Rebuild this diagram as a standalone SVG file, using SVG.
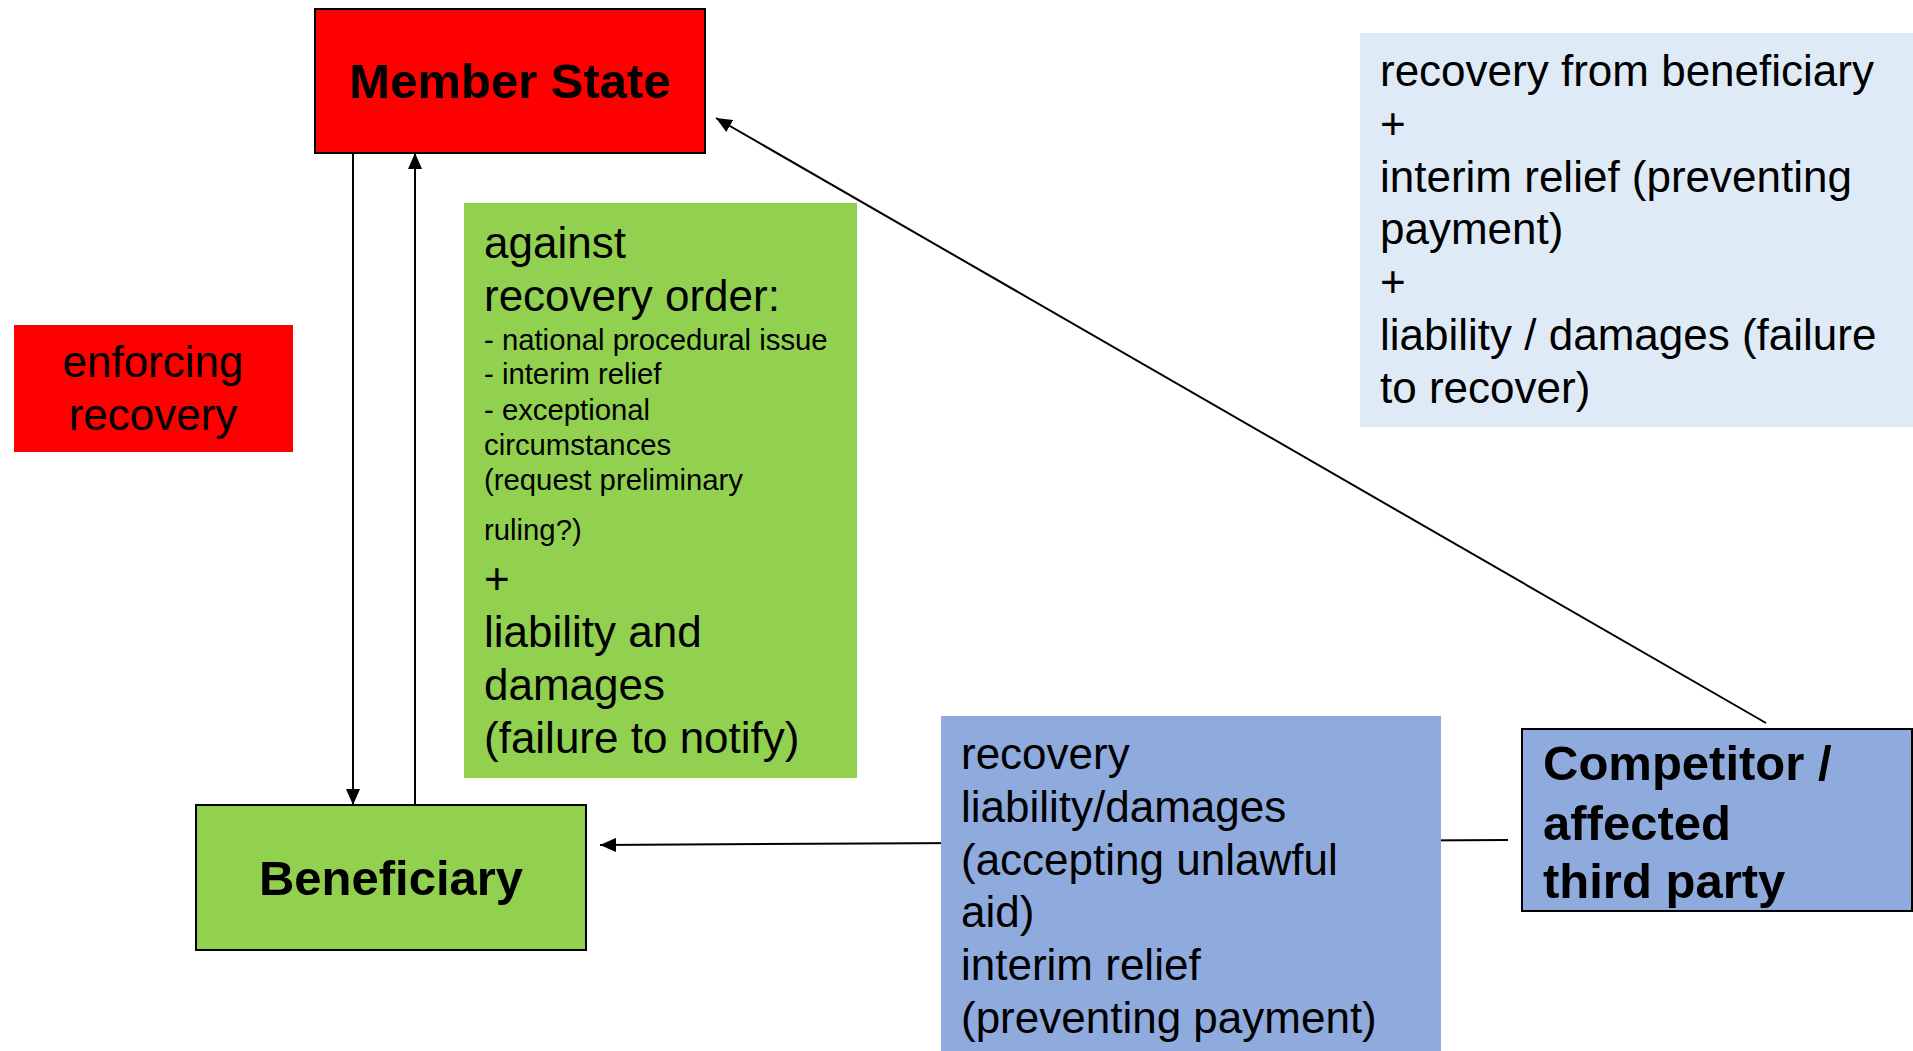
<svg xmlns="http://www.w3.org/2000/svg" width="1913" height="1051" viewBox="0 0 1913 1051">
  <style>
    .t { font-family: "Liberation Sans", Arial, sans-serif; font-size: 44px; fill: #000; }
    .s { font-family: "Liberation Sans", Arial, sans-serif; font-size: 29.3px; fill: #000; }
    .b { font-family: "Liberation Sans", Arial, sans-serif; font-size: 49px; font-weight: bold; fill: #000; }
    .edge { stroke: #000; stroke-width: 2; fill: none; marker-end: url(#arr); }
  </style>
  <defs>
    <marker id="arr" viewBox="0 0 16 14" refX="16" refY="7" markerWidth="16" markerHeight="14" markerUnits="userSpaceOnUse" orient="auto">
      <path d="M0,0 L16,7 L0,14 z" fill="#000"/>
    </marker>
  </defs>
  <rect x="0" y="0" width="1913" height="1051" fill="#fff"/>

  <g id="connectors">
    <line class="edge" x1="353" y1="153" x2="353" y2="805"/>
    <line class="edge" x1="415" y1="805" x2="415" y2="153"/>
    <line class="edge" x1="1766" y1="723" x2="716" y2="118"/>
    <line class="edge" x1="1508" y1="840" x2="600" y2="845"/>
  </g>

  <g id="member-state">
    <rect x="315" y="9" width="390" height="144" fill="#FF0000" stroke="#000" stroke-width="2"/>
    <text class="b" x="510" y="98" text-anchor="middle">Member State</text>
  </g>

  <g id="enforcing-recovery">
    <rect x="14" y="325" width="279" height="127" fill="#FF0000"/>
    <text class="t" x="153" y="377" text-anchor="middle">enforcing</text>
    <text class="t" x="153" y="430" text-anchor="middle">recovery</text>
  </g>

  <g id="against-recovery-order">
    <rect x="464" y="203" width="393" height="575" fill="#92D050"/>
    <text class="t" x="484" y="258">against</text>
    <text class="t" x="484" y="311">recovery order:</text>
    <text class="s" x="484" y="350">- national procedural issue</text>
    <text class="s" x="484" y="384">- interim relief</text>
    <text class="s" x="484" y="420">- exceptional</text>
    <text class="s" x="484" y="455">circumstances</text>
    <text class="s" x="484" y="490">(request preliminary</text>
    <text class="s" x="484" y="540">ruling?)</text>
    <text class="t" x="484" y="594">+</text>
    <text class="t" x="484" y="647">liability and</text>
    <text class="t" x="484" y="700">damages</text>
    <text class="t" x="484" y="753">(failure to notify)</text>
  </g>

  <g id="beneficiary">
    <rect x="196" y="805" width="390" height="145" fill="#92D050" stroke="#000" stroke-width="2"/>
    <text class="b" x="391" y="895" text-anchor="middle">Beneficiary</text>
  </g>

  <g id="competitor-remedies">
    <rect x="1360" y="33" width="553" height="394" fill="#DEEAF6"/>
    <text class="t" x="1380" y="86">recovery from beneficiary</text>
    <text class="t" x="1380" y="139">+</text>
    <text class="t" x="1380" y="192">interim relief (preventing</text>
    <text class="t" x="1380" y="244">payment)</text>
    <text class="t" x="1380" y="297">+</text>
    <text class="t" x="1380" y="350">liability / damages (failure</text>
    <text class="t" x="1380" y="403">to recover)</text>
  </g>

  <g id="beneficiary-remedies">
    <rect x="941" y="716" width="500" height="335" fill="#8FAADC"/>
    <text class="t" x="961" y="769">recovery</text>
    <text class="t" x="961" y="822">liability/damages</text>
    <text class="t" x="961" y="875">(accepting unlawful</text>
    <text class="t" x="961" y="927">aid)</text>
    <text class="t" x="961" y="980">interim relief</text>
    <text class="t" x="961" y="1033">(preventing payment)</text>
  </g>

  <g id="competitor">
    <rect x="1522" y="729" width="390" height="182" fill="#8FAADC" stroke="#000" stroke-width="2"/>
    <text class="b" x="1543" y="780">Competitor /</text>
    <text class="b" x="1543" y="840">affected</text>
    <text class="b" x="1543" y="898">third party</text>
  </g>
</svg>
